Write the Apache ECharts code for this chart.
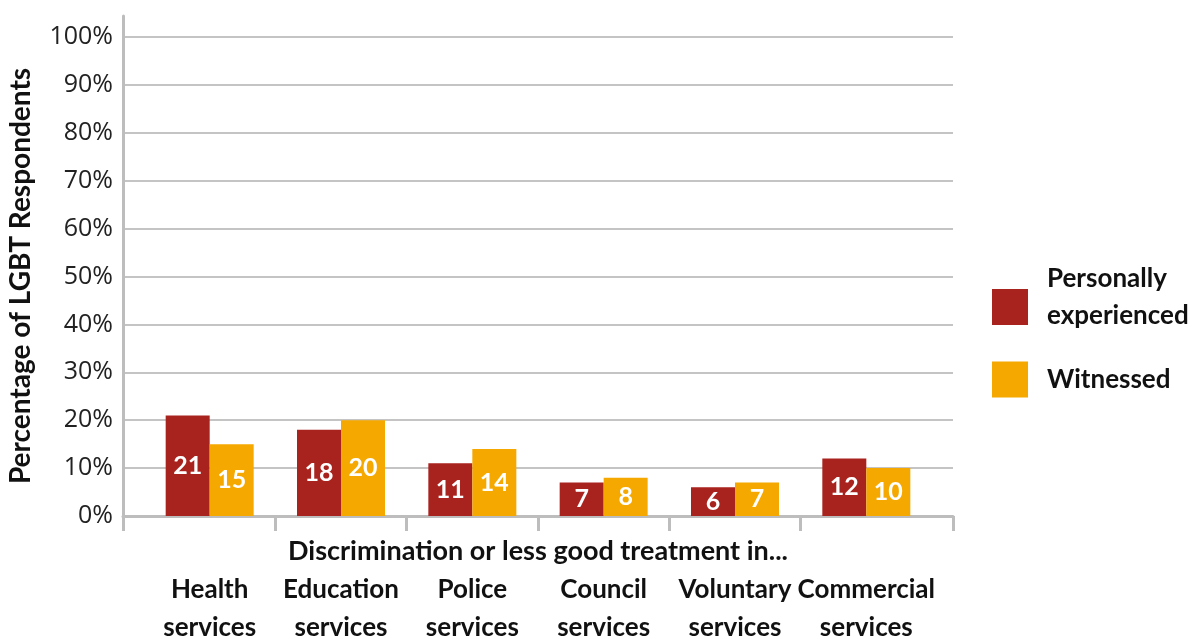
<!DOCTYPE html>
<html>
<head>
<meta charset="utf-8">
<script src="https://cdn.jsdelivr.net/npm/echarts@6/dist/echarts.min.js"></script>
<style>
  html, body { margin: 0; padding: 0; background: #fff; }
  #main { width: 1203px; height: 639px; }
</style>
</head>
<body>
<div id="main"></div>
<script>
// 数据
var categories = ['Health\nservices', 'Education\nservices', 'Police\nservices', 'Council\nservices', 'Voluntary\nservices', 'Commercial\nservices'];
var experienced = [21, 18, 11, 7, 6, 12];   // Personally experienced
var witnessed = [15, 20, 14, 8, 7, 10];     // Witnessed
var seriesNames = ['Personally\nexperienced', 'Witnessed'];
var catPos = [1, 2, 3, 4, 5, 6];            // 类别位置
var catTicks = [0.34, 1.5, 2.5, 3.5, 4.5, 5.5, 6.66];

var boldFont = 'Lato';
var chart = echarts.init(document.getElementById('main'));

function toPairs(vals) {
  return vals.map(function (v, i) { return [catPos[i], v]; });
}

var labelOpt = {
  show: true,
  position: 'inside',
  color: '#fff',
  fontFamily: boldFont,
  fontWeight: 'bold',
  fontSize: 25,
  formatter: function (p) { return p.value[1]; }
};

// 图例文字样式
var legendText = {
  fontFamily: boldFont, fontWeight: 'bold', fontSize: 26, color: '#111', lineHeight: 37,
  padding: [0, 0, 0, 14],
  rich: {
    a: { fontFamily: boldFont, fontWeight: 'bold', fontSize: 26, color: '#111', lineHeight: 37 },
    b: { fontSize: 10, lineHeight: 20 }
  }
};

var option = {
  animation: false,
  grid: { left: 123, right: 250, top: 16, bottom: 123, outerBoundsMode: 'none', containLabel: false },
  legend: [
    {
      orient: 'vertical',
      left: 987,
      top: 255,
      itemWidth: 36,
      itemHeight: 36,
      icon: 'rect',
      textStyle: legendText,
      data: [seriesNames[0]],
      formatter: function (name) {
        return name.split('\n').map(function (s) { return '{a|' + s + '}'; }).join('\n') + '\n{b| }';
      }
    },
    {
      orient: 'vertical',
      left: 987,
      top: 356,
      itemWidth: 36,
      itemHeight: 36,
      icon: 'rect',
      textStyle: legendText,
      data: [seriesNames[1]]
    }
  ],
  xAxis: {
    type: 'value',
    min: 0.34,
    max: 6.66,
    name: 'Discrimination or less good treatment in...',
    nameLocation: 'middle',
    nameGap: 22,
    nameMoveOverlap: false,
    nameTextStyle: { fontFamily: boldFont, fontWeight: 'bold', fontSize: 27, color: '#111' },
    axisLine: { show: true, lineStyle: { color: '#bdbdbd', width: 3 } },
    axisTick: { show: true, customValues: catTicks, length: 15, lineStyle: { color: '#bdbdbd', width: 3 } },
    axisLabel: {
      customValues: catPos,
      margin: 55,
      fontFamily: boldFont,
      fontWeight: 'bold',
      fontSize: 26,
      lineHeight: 38,
      color: '#111',
      formatter: function (v) { return categories[Math.round(v) - 1]; }
    },
    splitLine: { show: false }
  },
  yAxis: {
    type: 'value',
    min: 0,
    max: 104.4,
    interval: 10,
    name: 'Percentage of LGBT Respondents',
    nameLocation: 'middle',
    nameGap: 88,
    nameMoveOverlap: false,
    nameTextStyle: { fontFamily: boldFont, fontWeight: 'bold', fontSize: 28, color: '#111', padding: [0, 20, 0, 0] },
    axisLine: { show: true, lineStyle: { color: '#bdbdbd', width: 3 } },
    axisTick: { show: false },
    axisLabel: {
      showMaxLabel: false,
      margin: 10,
      fontFamily: 'Open Sans',
      fontSize: 25,
      color: '#222',
      formatter: function (v) { return Math.round(v) % 10 === 0 && v <= 100 ? v + '%' : ''; }
    },
    splitLine: { show: true, showMaxLine: false, lineStyle: { color: '#c4c4c4', width: 2 } }
  },
  series: [
    {
      name: seriesNames[0],
      type: 'bar',
      barWidth: 44,
      barGap: '0%',
      itemStyle: { color: '#A8221E' },
      label: labelOpt,
      data: toPairs(experienced)
    },
    {
      name: seriesNames[1],
      type: 'bar',
      barWidth: 44,
      barGap: '0%',
      itemStyle: { color: '#F5A800' },
      label: labelOpt,
      data: toPairs(witnessed)
    }
  ]
};

chart.setOption(option);
</script>
</body>
</html>
